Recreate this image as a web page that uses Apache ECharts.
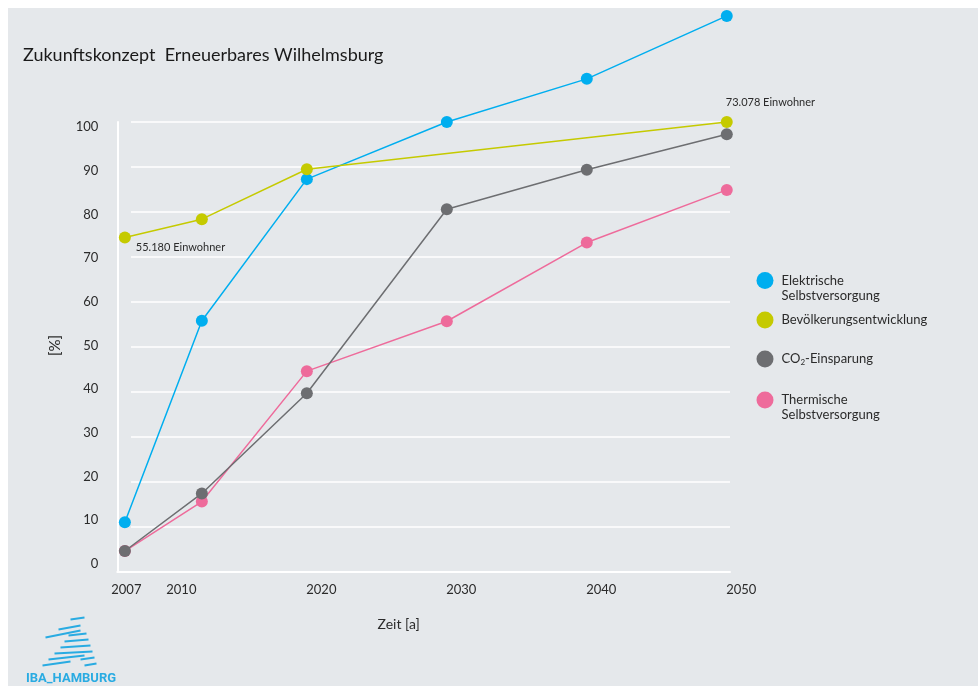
<!DOCTYPE html>
<html>
<head>
<meta charset="utf-8">
<script src="https://cdn.jsdelivr.net/npm/echarts@6/dist/echarts.min.js"></script>
<style>
html,body{margin:0;padding:0;background:#fff;}
#c{width:978px;height:686px;}
</style>
</head>
<body>
<div id="c"></div>
<script>
// ---- data ----
const years = [2007, 2012.5, 2020, 2030, 2040, 2050];
const popYears = [2007, 2012.5, 2020, 2050];
const elektrisch = [11, 55.8, 87.3, 100, 109.6, 123.6];
const bevoelkerung = [74.3, 78.4, 89.5, 100];
const popNotes = ['55.180 Einwohner', '', '', '73.078 Einwohner'];
const co2 = [4.6, 17.4, 39.7, 80.6, 89.4, 97.3];
const thermisch = [4.6, 15.6, 44.6, 55.7, 73.2, 84.9];
const xTickLabels = [2007, 2010, 2020, 2030, 2040, 2050];
const yTickLabels = [0, 10, 20, 30, 40, 50, 60, 70, 80, 90, 100];
const seriesNames = ['Elektrische Selbstversorgung', 'Bevölkerungsentwicklung', 'CO2-Einsparung', 'Thermische Selbstversorgung'];
const legendLabels = ['Elektrische\nSelbstversorgung', 'Bevölkerungsentwicklung', 'CO{sub|2}-Einsparung', 'Thermische\nSelbstversorgung'];
const colors = ['#00aeef', '#c5ca00', '#6d6e71', '#ee6b9b'];

const FONT = 'Lato';
const TXT = '#2b2b2b';

function pairs(xs, ys) { return xs.map((x, i) => [x, ys[i]]); }

const popData = popYears.map((x, i) => {
  const item = { value: [x, bevoelkerung[i]] };
  if (popNotes[i]) {
    item.label = {
      show: true,
      formatter: popNotes[i],
      position: i === 0 ? [17, 16] : [5, -14],
      align: 'left', verticalAlign: 'middle',
      fontFamily: FONT, fontSize: 11, color: TXT
    };
  }
  return item;
});

const lineBase = (name, color, data, z) => ({
  name, type: 'line', data, xAxisIndex: 0, yAxisIndex: 0,
  symbol: 'circle', symbolSize: 12, z,
  itemStyle: { color },
  lineStyle: { color, width: 1.5 },
  emphasis: { disabled: true },
  label: { show: false }
});

const legendTops = [258, 311.5, 350.5, 377.5];
const legends = seriesNames.map((n, i) => ({
  data: [n], left: 756.5, top: legendTops[i], padding: 0,
  orient: 'vertical', icon: 'circle', itemWidth: 17, itemHeight: 17,
  selectedMode: false,
  formatter: () => legendLabels[i],
  textStyle: {
    fontFamily: FONT, fontSize: 13, color: TXT, lineHeight: 15,
    padding: (i === 0 || i === 3) ? [15, 0, 0, 3] : [0, 0, 0, 3],
    rich: { sub: { fontSize: 8, fontFamily: FONT, color: TXT, verticalAlign: 'bottom', padding: [8, 0, 0, 0] } }
  }
}));

const chart = echarts.init(document.getElementById('c'), null, { renderer: 'canvas' });
chart.setOption({
  animation: false,
  backgroundColor: '#ffffff',
  title: {
    text: 'Zukunftskonzept  Erneuerbares Wilhelmsburg',
    left: 18, top: 41,
    textStyle: { fontFamily: FONT, fontSize: 18, fontWeight: 'normal', color: '#1a1a1a' }
  },
  graphic: [
    { type: 'rect', z: -10, silent: true, shape: { x: 8, y: 8, width: 970, height: 678 }, style: { fill: '#e5e8eb' } },
    { type: 'group', left: 40, top: 615, silent: true, children: [
      { type: 'line', shape: { x1: 18, y1: 12, x2: 40, y2: 8 }, style: { stroke: '#29abe2', lineWidth: 2 } },
      { type: 'line', shape: { x1: 5, y1: 20, x2: 40, y2: 13 }, style: { stroke: '#29abe2', lineWidth: 2 } },
      { type: 'line', shape: { x1: 30, y1: 2, x2: 44, y2: 0 }, style: { stroke: '#29abe2', lineWidth: 2 } },
      { type: 'line', shape: { x1: 28, y1: 18, x2: 46, y2: 16 }, style: { stroke: '#29abe2', lineWidth: 2 } },
      { type: 'line', shape: { x1: 24, y1: 24, x2: 48, y2: 22 }, style: { stroke: '#29abe2', lineWidth: 2 } },
      { type: 'line', shape: { x1: 20, y1: 30, x2: 50, y2: 28 }, style: { stroke: '#29abe2', lineWidth: 2 } },
      { type: 'line', shape: { x1: 14, y1: 36, x2: 52, y2: 34 }, style: { stroke: '#29abe2', lineWidth: 2 } },
      { type: 'line', shape: { x1: 8, y1: 42, x2: 44, y2: 38 }, style: { stroke: '#29abe2', lineWidth: 2 } },
      { type: 'line', shape: { x1: 2, y1: 48, x2: 30, y2: 44 }, style: { stroke: '#29abe2', lineWidth: 2 } },
      { type: 'line', shape: { x1: 40, y1: 42, x2: 54, y2: 40 }, style: { stroke: '#29abe2', lineWidth: 2 } },
      { type: 'line', shape: { x1: 44, y1: 48, x2: 56, y2: 46 }, style: { stroke: '#29abe2', lineWidth: 2 } }
    ]},
    { type: 'text', left: 26, top: 672, silent: true,
      style: { text: 'IBA_HAMBURG', fontFamily: 'Roboto', fontWeight: 'bold', fontSize: 13, fill: '#29abe2' } }
  ],
  legend: legends,
  grid: [
    { left: 117.3, right: 248, top: 9.6, bottom: 114.3 },   // data
    { left: 131, right: 248, top: 122, bottom: 114.3 },     // split lines
    { left: 117.3, width: 10, top: 127, bottom: 122 },      // y labels
    { left: 117.3, width: 10, top: 122, bottom: 114.3 }     // y axis line
  ],
  xAxis: [
    {
      type: 'value', gridIndex: 0, min: 2006.46, max: 2050.23,
      axisLine: { show: true, lineStyle: { color: '#ffffff', width: 2 } },
      axisTick: { show: false }, splitLine: { show: false },
      axisLabel: {
        customValues: xTickLabels, margin: 12, align: 'center',
        fontFamily: FONT, fontSize: 13, color: TXT,
        formatter: v => (v === 2007 ? '{e|' + v + '}' : '{n|' + v + '}'),
        rich: {
          n: { fontFamily: FONT, fontSize: 13, color: TXT, padding: [0, 0, 0, 29] },
          e: { fontFamily: FONT, fontSize: 13, color: TXT, padding: [0, 0, 0, 3] }
        }
      },
      name: 'Zeit [a]', nameLocation: 'middle', nameGap: 46,
      nameTextStyle: { fontFamily: FONT, fontSize: 14, color: TXT, padding: [0, 50, 0, 0] }
    },
    { type: 'value', gridIndex: 1, min: 0, max: 1, show: false },
    { type: 'value', gridIndex: 2, min: 0, max: 1, show: false },
    { type: 'value', gridIndex: 3, min: 0, max: 1, show: false }
  ],
  yAxis: [
    { type: 'value', gridIndex: 0, min: 0, max: 125, show: false },
    {
      type: 'value', gridIndex: 1, min: 0, max: 100, interval: 10,
      axisLine: { show: false }, axisTick: { show: false }, axisLabel: { show: false },
      splitLine: { show: true, lineStyle: { color: '#ffffff', width: 1.5 } }
    },
    {
      type: 'value', gridIndex: 2, min: 0, max: 100, interval: 10,
      axisLine: { show: false }, axisTick: { show: false }, splitLine: { show: false },
      axisLabel: { margin: 19, fontFamily: FONT, fontSize: 13, color: TXT },
      name: '[%]', nameLocation: 'middle', nameRotate: 90, nameGap: 55,
      nameTextStyle: { fontFamily: FONT, fontSize: 15, color: TXT }
    },
    {
      type: 'value', gridIndex: 3, min: 0, max: 1,
      axisLine: { show: true, lineStyle: { color: '#ffffff', width: 2 } },
      axisTick: { show: false }, axisLabel: { show: false }, splitLine: { show: false }
    }
  ],
  series: [
    lineBase(seriesNames[0], colors[0], pairs(years, elektrisch), 3),
    lineBase(seriesNames[1], colors[1], popData, 4),
    lineBase(seriesNames[3], colors[3], pairs(years, thermisch), 5),
    lineBase(seriesNames[2], colors[2], pairs(years, co2), 6)
  ]
});
</script>
</body>
</html>
